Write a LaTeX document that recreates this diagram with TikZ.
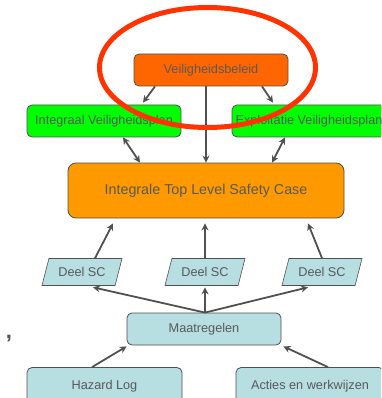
\documentclass[tikz,border=0pt]{standalone}
\usepackage{fontspec}
\setmainfont{Liberation Sans}
\usetikzlibrary{arrows.meta,shapes.geometric}

\definecolor{beleidoranje}{RGB}{255,102,0}
\definecolor{caseoranje}{RGB}{255,153,0}
\definecolor{plangroen}{RGB}{0,255,0}
\definecolor{lichtblauw}{RGB}{183,222,225}
\definecolor{lijngrijs}{RGB}{80,80,80}
\definecolor{tekstgrijs}{RGB}{89,89,89}
\definecolor{cirkelrood}{RGB}{255,51,0}

\tikzset{
  blok/.style={rectangle,rounded corners=5pt,draw=lijngrijs,line width=0.8pt,text=tekstgrijs,
    font=\fontsize{12.7}{14}\selectfont,minimum width=154pt,minimum height=32pt,inner sep=0pt},
  deel/.style={trapezium,trapezium left angle=53.5,trapezium right angle=126.5,
    trapezium stretches body=true,draw=lijngrijs,
    line width=0.6pt,fill=lichtblauw,text=tekstgrijs,font=\fontsize{12.7}{14}\selectfont,
    minimum height=27pt,minimum width=80pt,inner xsep=-2pt,inner ysep=0pt},
  pijl/.style={-{Stealth[length=7pt,width=7pt]},draw=lijngrijs,line width=1.8pt},
  dpijl/.style={{Stealth[length=7pt,width=7pt]}-{Stealth[length=7pt,width=7pt]},draw=lijngrijs,line width=1.8pt}
}

\begin{document}
\begin{tikzpicture}[x=1pt,y=-1pt]
          \useasboundingbox (0,0) rectangle (381,398);
          \clip (0,0) rectangle (381,398);

          % Draw the boxes
          \node[blok,fill=beleidoranje] (vb) at (211,70) {Veiligheidsbeleid};
          \node[blok,fill=plangroen] (ivp) at (104,121) {Integraal Veiligheidsplan};
          \node[blok,fill=plangroen] (evp) at (309,121) {Exploitatie Veiligheidsplan};
          \node[blok,fill=caseoranje,rounded corners=8pt,minimum width=276pt,minimum height=55pt,
            font=\fontsize{14.3}{16}\selectfont] (itlsc) at (206,190.5) {Integrale Top Level Safety Case};
          \node[deel] (dsc1) at (82,272) {Deel SC};
          \node[deel] (dsc2) at (205,272) {Deel SC};
          \node[deel] (dsc3) at (322,272) {Deel SC};
          \node[blok,fill=lichtblauw] (maat) at (204,329) {Maatregelen};
          \node[blok,fill=lichtblauw,minimum width=155pt,minimum height=38pt] (hlog) at (104.5,386.5) {Hazard Log};
          \node[blok,fill=lichtblauw,minimum width=148pt,minimum height=38pt] (acties) at (310,386.5) {Acties en werkwijzen};
          \node[text=lijngrijs,font=\fontsize{22}{22}\selectfont\bfseries,inner sep=0pt] (komma) at (9,339) {,};

          % Draw the arrows
          \draw[pijl] ([xshift=-56pt]vb.south) -- ([xshift=39pt,yshift=2pt]ivp.north);
          \draw[pijl] ([xshift=51pt]vb.south) -- ([xshift=-36pt,yshift=2pt]evp.north);
          \draw[pijl] ([xshift=-5pt]vb.south) -- (itlsc.north);
          \draw[dpijl] ([xshift=19pt]ivp.south) -- ([xshift=-66pt]itlsc.north);
          \draw[dpijl] ([xshift=-24pt]evp.south) -- ([xshift=66pt]itlsc.north);
          \draw[pijl] ([xshift=13pt]dsc1.north) -- ([xshift=-93pt,yshift=-5pt]itlsc.south);
          \draw[pijl] (dsc2.north) -- ([xshift=-1pt,yshift=-5pt]itlsc.south);
          \draw[pijl] (dsc3.north) -- ([xshift=102pt,yshift=-5pt]itlsc.south);
          \draw[pijl] ([xshift=1pt]maat.north) -- ([xshift=11pt,yshift=-1.5pt]dsc1.south);
          \draw[pijl] ([xshift=1pt]maat.north) -- ([yshift=-1.5pt]dsc2.south);
          \draw[pijl] ([xshift=1pt]maat.north) -- ([xshift=-14pt,yshift=-1.5pt]dsc3.south);
          \draw[pijl] ([xshift=-12.5pt]hlog.north) -- ([yshift=-1pt]maat.south west);
          \draw[pijl] ([xshift=18pt]acties.north) -- ([xshift=2pt,yshift=-1pt]maat.south east);

          % Draw the red ellipse
          \draw[cirkelrood,line width=5pt] (207.5,67.5) ellipse [x radius=108pt,y radius=60pt];
\end{tikzpicture}
\end{document}
